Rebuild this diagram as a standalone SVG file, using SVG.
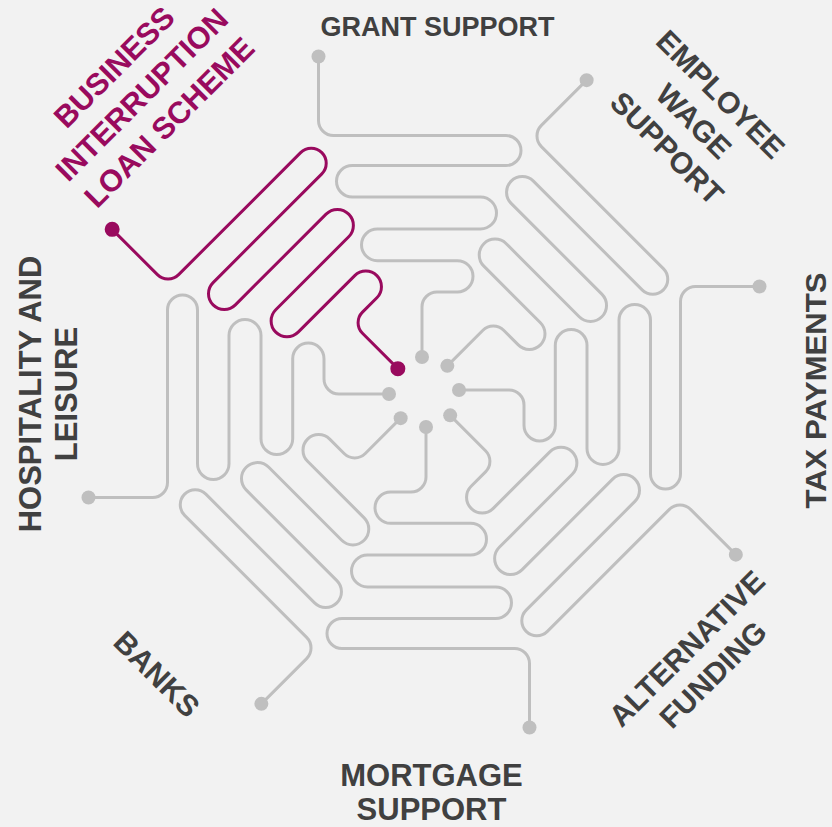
<svg xmlns="http://www.w3.org/2000/svg" xmlns:xlink="http://www.w3.org/1999/xlink" width="832" height="827" viewBox="0 0 832 827">
<style>
.maze{fill:none;stroke-width:3;stroke-linecap:round;stroke-linejoin:round}
.g{stroke:#BFBFBF}
.m{stroke:#990A5E}
.dg{fill:#BFBFBF}
.dm{fill:#990A5E}
.lbl{font-family:"Liberation Sans",Arial,sans-serif;font-weight:bold;fill:#404040;text-anchor:middle}
.lm{fill:#990A5E}
</style>
<defs>
<path id="maze" d="M -105.5 -335.5 V -271.5 A 15 15 0 0 0 -90.5 -256.5 H 82 A 15 15 0 0 1 82 -226.5 H -71.75 A 15.75 15.75 0 0 0 -71.75 -195 H 56.5 A 16 16 0 0 1 56.5 -163 H -46.65 A 15.85 15.85 0 0 0 -46.65 -131.3 H 33.35 A 15.65 15.65 0 0 1 33.35 -100 H 13 A 15 15 0 0 0 -2 -85 V -35"/>
</defs>
<rect width="832" height="827" fill="#F2F2F2"/>
<g id="connectors">
<use xlink:href="#maze" href="#maze" class="maze g" transform="translate(424 392)"/>
<use xlink:href="#maze" href="#maze" class="maze g" transform="translate(424 392) rotate(45)"/>
<use xlink:href="#maze" href="#maze" class="maze g" transform="translate(424 392) rotate(90)"/>
<use xlink:href="#maze" href="#maze" class="maze g" transform="translate(424 392) rotate(135)"/>
<use xlink:href="#maze" href="#maze" class="maze g" transform="translate(424 392) rotate(180)"/>
<use xlink:href="#maze" href="#maze" class="maze g" transform="translate(424 392) rotate(225)"/>
<use xlink:href="#maze" href="#maze" class="maze g" transform="translate(424 392) rotate(270)"/>
<use xlink:href="#maze" href="#maze" class="maze m" transform="translate(424 392) rotate(315)"/>
</g>
<g id="grant-support">
<g transform="translate(424 392)"><circle class="dg" cx="-105.5" cy="-335.5" r="7"/><circle class="dg" cx="-2" cy="-35" r="7"/></g>
<text class="lbl" x="437.5" y="36" font-size="27">GRANT SUPPORT</text>
</g>
<g id="employee-wage-support">
<g transform="translate(424 392) rotate(45)"><circle class="dg" cx="-105.5" cy="-335.5" r="7"/><circle class="dg" cx="-2" cy="-35" r="7"/></g>
<g transform="translate(694 121) rotate(45)" class="lbl" font-size="30">
<text class="lbl" x="0" y="-27.3">EMPLOYEE</text>
<text class="lbl" x="0" y="10.7">WAGE</text>
<text class="lbl" x="0" y="48.7">SUPPORT</text>
</g>
</g>
<g id="tax-payments">
<g transform="translate(424 392) rotate(90)"><circle class="dg" cx="-105.5" cy="-335.5" r="7"/><circle class="dg" cx="-2" cy="-35" r="7"/></g>
<g transform="translate(815 390.5) rotate(-90)">
<text class="lbl" x="0" y="10.7" font-size="30" textLength="236" lengthAdjust="spacingAndGlyphs">TAX PAYMENTS</text>
</g>
</g>
<g id="alternative-funding">
<g transform="translate(424 392) rotate(135)"><circle class="dg" cx="-105.5" cy="-335.5" r="7"/><circle class="dg" cx="-2" cy="-35" r="7"/></g>
<g transform="translate(686.7 648.3) rotate(-45)" font-size="30">
<text class="lbl" x="0" y="10.7">ALTERNATIVE</text>
<text class="lbl" x="0" y="47.7">FUNDING</text>
</g>
</g>
<g id="mortgage-support">
<g transform="translate(424 392) rotate(180)"><circle class="dg" cx="-105.5" cy="-335.5" r="7"/><circle class="dg" cx="-2" cy="-35" r="7"/></g>
<text class="lbl" x="431.5" y="786" font-size="31">MORTGAGE</text>
<text class="lbl" x="431.5" y="820" font-size="31">SUPPORT</text>
</g>
<g id="banks">
<g transform="translate(424 392) rotate(225)"><circle class="dg" cx="-105.5" cy="-335.5" r="7"/><circle class="dg" cx="-2" cy="-35" r="7"/></g>
<g transform="translate(157 674) rotate(45)">
<text class="lbl" x="0" y="10.7" font-size="30">BANKS</text>
</g>
</g>
<g id="hospitality-and-leisure">
<g transform="translate(424 392) rotate(270)"><circle class="dg" cx="-105.5" cy="-335.5" r="7"/><circle class="dg" cx="-2" cy="-35" r="7"/></g>
<g transform="translate(30 394) rotate(-90)" font-size="31">
<text class="lbl" x="0" y="11">HOSPITALITY AND</text>
<text class="lbl" x="0" y="47">LEISURE</text>
</g>
</g>
<g id="business-interruption-loan-scheme">
<g transform="translate(424 392) rotate(315)"><circle class="dm" cx="-105.5" cy="-335.5" r="7.5"/><circle class="dm" cx="-2" cy="-35" r="7.5"/></g>
<g transform="translate(114 67) rotate(-45)" font-size="30.5">
<text class="lbl lm" x="0" y="10.7">BUSINESS</text>
<text class="lbl lm" x="0" y="49.7">INTERRUPTION</text>
<text class="lbl lm" x="0" y="88.7">LOAN SCHEME</text>
</g>
</g>
</svg>
